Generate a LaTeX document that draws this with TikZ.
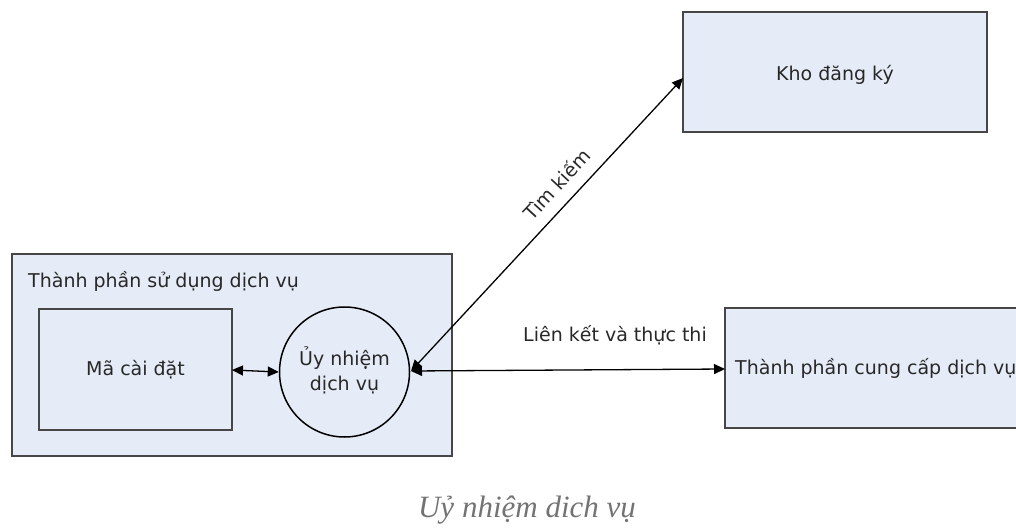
\documentclass[tikz,border=0pt]{standalone}
\usepackage{fontspec}
\setmainfont{DejaVu Sans}
\newfontfamily\capfont{Liberation Serif}
\usetikzlibrary{arrows.meta}
\definecolor{boxfill}{RGB}{230,236,247}
\definecolor{boxline}{RGB}{70,70,70}
\definecolor{txt}{RGB}{40,40,40}
\begin{document}
\begin{tikzpicture}[x=1pt,y=-1pt,
  box/.style={draw=boxline,fill=boxfill,line width=2.3pt},
  lbl/.style={text=txt,font=\fontsize{19}{22}\selectfont,inner sep=0pt},
  conn/.style={line width=1.3pt,draw=black,{Triangle[length=11pt,width=10pt]}-{Triangle[length=11pt,width=10pt]}}]
\useasboundingbox (0,0) rectangle (1016,529);
% boxes
\draw[box] (12,254) rectangle (452,456);
\node[lbl,anchor=west] (outerlbl) at (28,281) {Thành phần sử dụng dịch vụ};
\draw[box] (39,309) rectangle (232,430);
\node[lbl] (ma) at (135.5,369.5) {Mã cài đặt};
\coordinate (maE) at (232,370);
\node[circle,draw=black,line width=1.5pt,minimum size=130pt,inner sep=0pt,fill=boxfill] (proxy) at (344.5,372) {};
\node[lbl,align=center,font=\fontsize{19}{25}\selectfont] (proxylbl) at (344.5,370) {Ủy nhiệm\\dịch vụ};
\draw[box] (683,12) rectangle (987,132);
\node[lbl] (kho) at (835,75) {Kho đăng ký};
\draw[box] (725,308) rectangle (1030,428);
\node[lbl,anchor=west] (ncc) at (735,368) {Thành phần cung cấp dịch vụ};
% connectors
\coordinate (khoW) at (683,78);
\coordinate (nccW) at (725,369);
\coordinate (pE) at (411,371);
\draw[conn] (maE) -- (proxy.west);
\draw[conn] (pE) -- node[lbl,sloped,above=12pt,pos=0.59] (tim) {Tìm kiếm} (khoW);
\draw[conn] (pE) -- (nccW);
\node[lbl] (lk) at (615,335) {Liên kết và thực thi};
% caption
\node[text=gray!90!black,font=\capfont\itshape\fontsize{31}{36}\selectfont] (cap) at (527,510) {Uỷ nhiệm dich vụ};
\end{tikzpicture}
\end{document}
